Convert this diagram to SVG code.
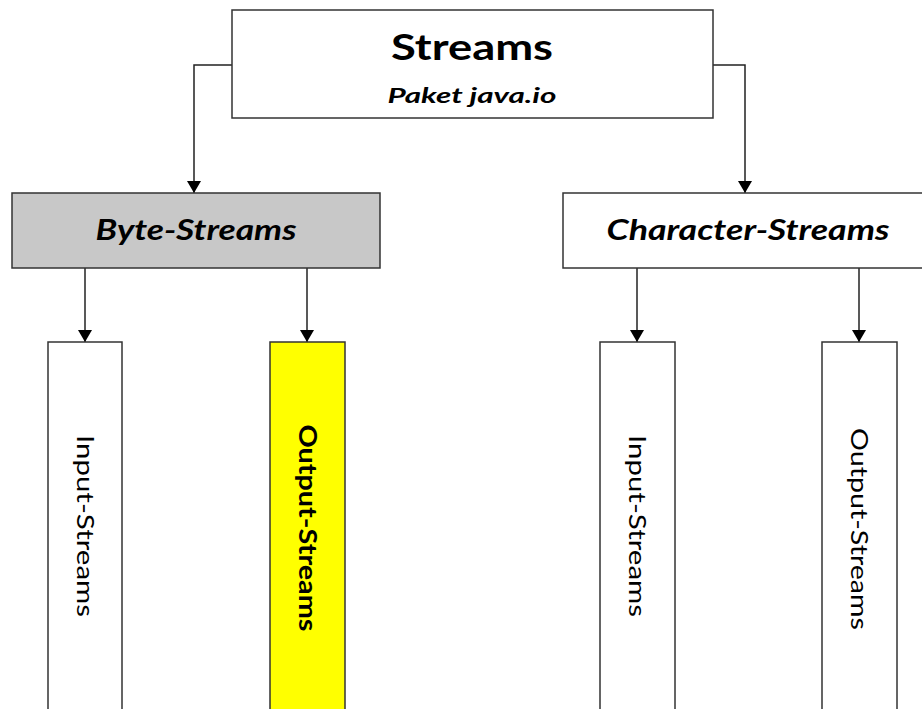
<svg xmlns="http://www.w3.org/2000/svg" width="922" height="709" viewBox="0 0 922 709">
<style>
.box{stroke:#333;stroke-width:1.5}
.conn{fill:none;stroke:#222;stroke-width:1.5}
.t{font-family:Lato,"Open Sans","Liberation Sans",sans-serif;fill:#000;text-anchor:middle}
.bi{font-weight:bold;font-style:italic}
.v{font-size:24px;dominant-baseline:central}
</style>
<defs>
<marker id="ah" viewBox="0 0 12 14" refX="12" refY="7" markerWidth="12" markerHeight="14" markerUnits="userSpaceOnUse" orient="auto">
<path d="M0,0 L12,7 L0,14 Z" fill="#000"/>
</marker>
</defs>
<rect width="922" height="709" fill="#fff"/>
<g id="connectors">
<path class="conn" d="M232,65 H194 V193" marker-end="url(#ah)"/>
<path class="conn" d="M713,65 H745 V193" marker-end="url(#ah)"/>
<path class="conn" d="M85,268 V342" marker-end="url(#ah)"/>
<path class="conn" d="M307,268 V342" marker-end="url(#ah)"/>
<path class="conn" d="M637,268 V342" marker-end="url(#ah)"/>
<path class="conn" d="M859,268 V342" marker-end="url(#ah)"/>
</g>
<g id="streams">
<rect class="box" x="232" y="10" width="481" height="108" fill="#fff"/>
<text class="t" x="472" y="60" font-size="36" font-weight="bold" textLength="162" lengthAdjust="spacingAndGlyphs">Streams</text>
<text class="t bi" x="472" y="103" font-size="21" textLength="169" lengthAdjust="spacingAndGlyphs">Paket java.io</text>
</g>
<g id="byte-streams">
<rect class="box" x="12" y="193" width="368" height="75" fill="#c8c8c8"/>
<text class="t bi" x="196" y="240" font-size="28" textLength="201" lengthAdjust="spacingAndGlyphs">Byte-Streams</text>
</g>
<g id="character-streams">
<rect class="box" x="563" y="193" width="370" height="75" fill="#fff"/>
<text class="t bi" x="748" y="240" font-size="28" textLength="283" lengthAdjust="spacingAndGlyphs">Character-Streams</text>
</g>
<g id="byte-input">
<rect class="box" x="48" y="342" width="74" height="380" fill="#fff"/>
<text class="t v" fill="#333" transform="translate(86,526) rotate(90)" textLength="182" lengthAdjust="spacingAndGlyphs">Input-Streams</text>
</g>
<g id="byte-output">
<rect class="box" x="270" y="342" width="75" height="380" fill="#ffff00"/>
<text class="t v" font-weight="bold" transform="translate(308,528) rotate(90)" textLength="207" lengthAdjust="spacingAndGlyphs">Output-Streams</text>
</g>
<g id="char-input">
<rect class="box" x="600" y="342" width="75" height="380" fill="#fff"/>
<text class="t v" transform="translate(638,526) rotate(90)" textLength="182" lengthAdjust="spacingAndGlyphs">Input-Streams</text>
</g>
<g id="char-output">
<rect class="box" x="822" y="342" width="75" height="380" fill="#fff"/>
<text class="t v" transform="translate(860,529) rotate(90)" textLength="202" lengthAdjust="spacingAndGlyphs">Output-Streams</text>
</g>
</svg>
